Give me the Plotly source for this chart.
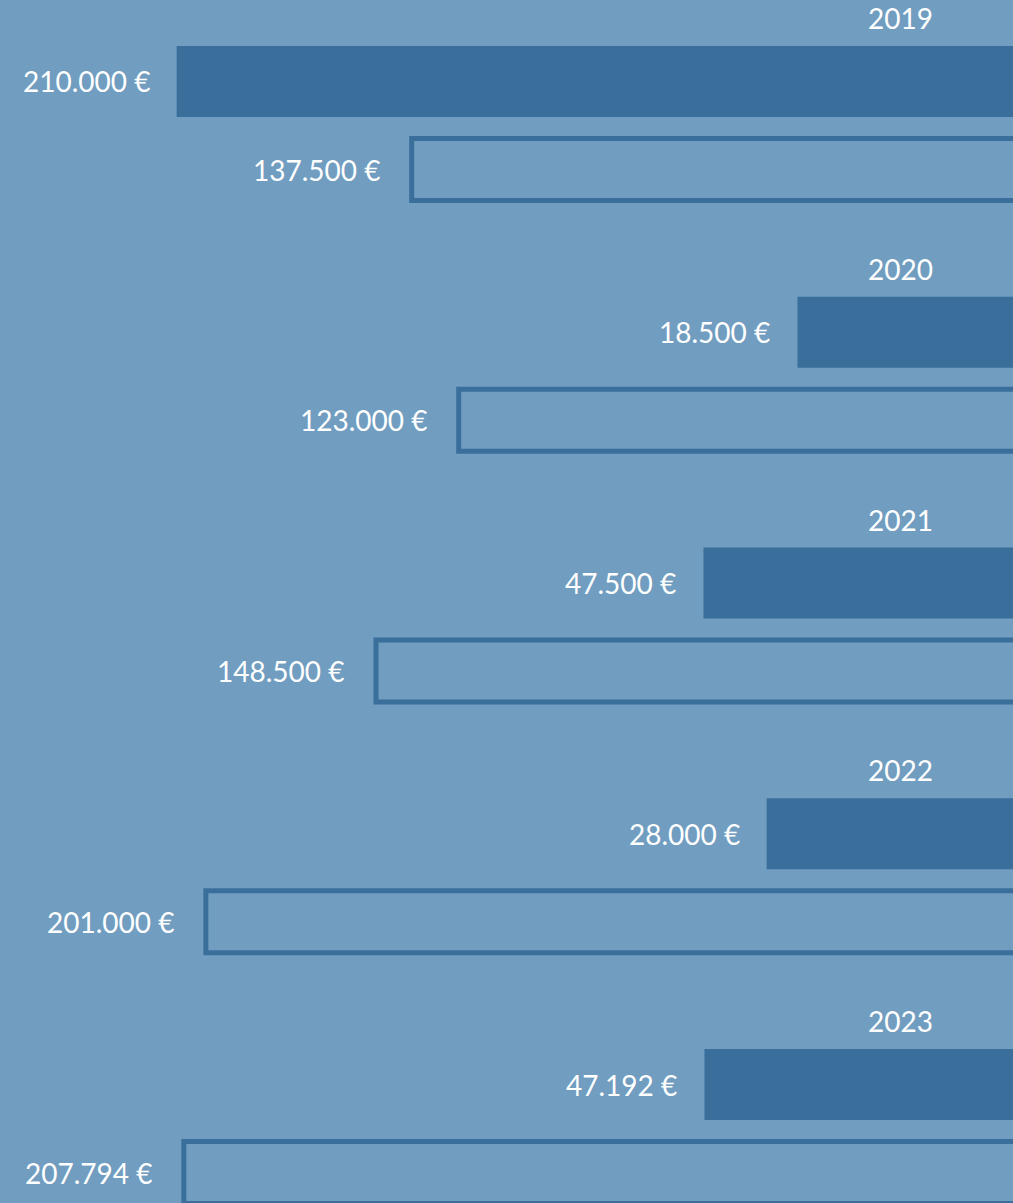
import plotly.graph_objects as go

# ---- data ----
years = ["2019", "2020", "2021", "2022", "2023"]
filled_values = [210000, 18500, 47500, 28000, 47192]
outline_values = [137500, 123000, 148500, 201000, 207794]

# ---- style ----
BG = "#709dc0"
DARK = "#3a6f9c"
FONT = "Lato"
FONT_SIZE = 28
AXIS_START = -49000      # value axis does not start at zero (bars grow from the right edge)
AXIS_END = 264500
OUTLINE_OFFSET = 0.351   # vertical offset of the outlined bar within a year group


def fmt(v):
    return f"{v:,}".replace(",", ".") + " \u20ac"


ypos_f = list(range(len(years)))
ypos_o = [i + OUTLINE_OFFSET for i in ypos_f]

fig = go.Figure()
fig.add_trace(go.Bar(
    orientation="h",
    y=ypos_f,
    x=[v - AXIS_START for v in filled_values],
    base=AXIS_START,
    width=0.283,
    marker=dict(color=DARK, line=dict(width=0)),
    hoverinfo="skip",
))
fig.add_trace(go.Bar(
    orientation="h",
    y=ypos_o,
    x=[v - AXIS_START for v in outline_values],
    base=AXIS_START,
    width=0.247,
    marker=dict(color=BG, line=dict(width=5, color=DARK)),
    hoverinfo="skip",
))

annotations = []
for i, y in enumerate(years):
    annotations.append(dict(
        xref="paper", x=1, yref="y", y=ypos_f[i] - 0.253,
        text=y, showarrow=False, xanchor="right", yanchor="middle",
        xshift=-78, font=dict(family=FONT, size=FONT_SIZE, color="white"),
    ))
    annotations.append(dict(
        xref="x", x=filled_values[i], yref="y", y=ypos_f[i],
        text=fmt(filled_values[i]), showarrow=False, xanchor="right",
        yanchor="middle", xshift=-25,
        font=dict(family=FONT, size=FONT_SIZE, color="white"),
    ))
    annotations.append(dict(
        xref="x", x=outline_values[i], yref="y", y=ypos_o[i],
        text=fmt(outline_values[i]), showarrow=False, xanchor="right",
        yanchor="middle", xshift=-30,
        font=dict(family=FONT, size=FONT_SIZE, color="white"),
    ))

fig.update_layout(
    width=1013, height=1203,
    margin=dict(l=0, r=0, t=0, b=0),
    paper_bgcolor=BG, plot_bgcolor=BG,
    barmode="overlay",
    showlegend=False,
    annotations=annotations,
    # right end sits just inside the bar base so the outline's right edge is hidden
    xaxis=dict(range=[AXIS_END, AXIS_START + 1000], visible=False, fixedrange=True),
    yaxis=dict(range=[4.4726, -0.325], visible=False, fixedrange=True),
)

fig.write_html("out.html", config={"displayModeBar": False})
